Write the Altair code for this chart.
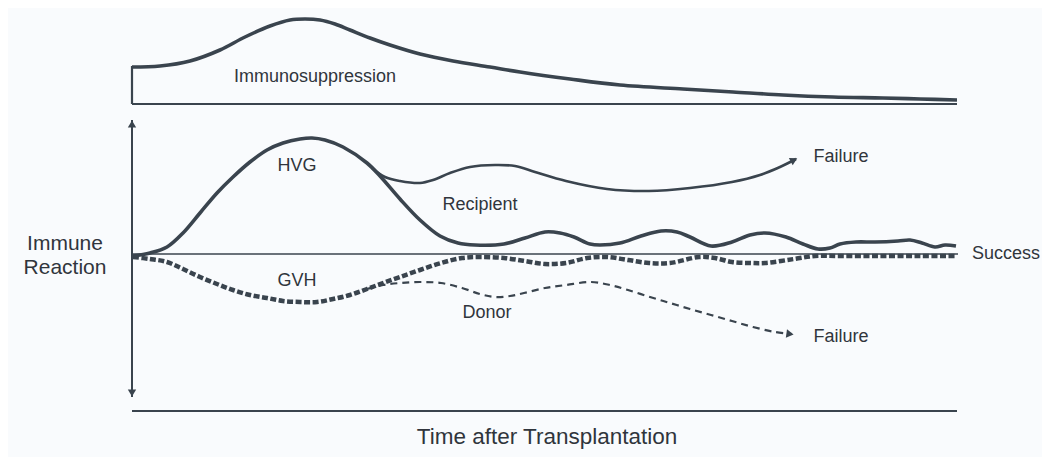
import altair as alt
import pandas as pd

# Schematic units: time t (0 = transplantation), level v (0 = immune baseline)
LINE = "#3a444e"
TEXT = "#30353c"
BG = "#f9fbfd"

# Immunosuppression curve (top panel)
immuno_t = [0, 28, 58, 88, 113, 138, 158, 173, 188, 203, 218, 238, 258, 288, 321, 358, 388, 438, 488, 551, 601, 651, 701, 751, 788, 825]
immuno_v = [187, 188, 193, 204, 217, 228, 234, 235, 234, 230, 224, 216, 209, 200, 193, 187, 182, 175, 169, 165, 162, 159, 157, 156, 155, 154]
immuno_base = 150

# HVG reaction that settles to success
hvg_t = [1, 18, 35, 51, 68, 85, 101, 118, 135, 151, 168, 180, 193, 211, 235, 248, 268, 288, 308, 326, 343, 372, 393, 413, 428, 442, 458, 468, 488, 509, 529, 545, 558, 579, 600, 618, 633, 654, 671, 686, 698, 708, 724, 743, 766, 778, 790, 803, 813, 824]
hvg_v = [-2, 1, 7, 21, 41, 61, 77, 92, 104, 111, 115, 116, 114, 107, 91, 78, 55, 34, 18, 11, 9, 10, 16, 22, 21, 17, 10, 9, 11, 18, 23, 22, 17, 8, 12, 19, 21, 17, 10, 5, 6, 10, 12, 12, 13, 14, 11, 7, 9, 8]

# Recipient branch toward failure
rec_t = [240, 253, 268, 288, 301, 318, 338, 363, 383, 403, 434, 475, 517, 558, 600, 628, 648, 664]
rec_v = [86, 77, 73, 71, 74, 81, 87, 89, 88, 82, 73, 65, 63, 66, 72, 79, 87, 95]

# GVH reaction (thick dashed) that settles to success
gvh_t = [1, 18, 35, 51, 68, 85, 101, 118, 135, 151, 168, 185, 201, 218, 235, 251, 268, 288, 309, 330, 348, 372, 393, 413, 434, 455, 475, 496, 517, 538, 567, 583, 600, 618, 633, 662, 683, 708, 748, 788, 824]
gvh_v = [-3, -5, -8, -15, -23, -30, -36, -41, -44, -47, -48, -48, -45, -41, -35, -29, -23, -16, -9, -4, -3, -4, -7, -10, -9, -4, -3, -6, -9, -9, -3, -4, -8, -9, -9, -5, -2, -2, -2, -2, -2]

# Donor branch (thin dashed) toward failure
don_t = [235, 251, 268, 288, 309, 330, 348, 363, 378, 392, 413, 434, 459, 478, 496, 518, 538, 558, 579, 600, 621, 643, 660]
don_v = [-35, -31, -29, -28, -29, -34, -40, -43, -42, -39, -34, -31, -28, -31, -36, -43, -49, -55, -61, -67, -73, -78, -80]

# Arrowheads: t, v, shape, angle
arrow_t = [0, 0, 662, 658]
arrow_v = [130, -139, 94, -80]
arrow_shape = ["triangle-up", "triangle-down", "triangle-right", "triangle-right"]
arrow_angle = [0, 0, 333, 8]

# Labels
label_text = ["Immunosuppression", "HVG", "GVH", "Recipient", "Donor", "Failure", "Failure", "Success",
              "Immune", "Reaction", "Time after Transplantation"]
label_t = [183, 165, 165, 348, 355, 709, 709, 874, -67, -67, 415]
label_v = [177, 88, -27, 49, -59, 97, -83, 0, 10, -14, -183]
label_size = [18, 18, 18, 18, 18, 18, 18, 18, 21, 21, 22.5]

X = alt.Scale(domain=[-124, 910])
Y = alt.Scale(domain=[-203, 246])


def curve(ts, vs, width, dash=None):
    df = pd.DataFrame({"t": ts, "v": vs, "i": range(len(ts))})
    kw = dict(color=LINE, strokeWidth=width, interpolate="catmull-rom", strokeCap="butt")
    if dash:
        kw["strokeDash"] = dash
    return alt.Chart(df).mark_line(**kw).encode(
        x=alt.X("t:Q", scale=X, axis=None),
        y=alt.Y("v:Q", scale=Y, axis=None),
        order="i:Q",
    )


def hrule(t0, t1, v, width):
    df = pd.DataFrame({"t": [t0], "t2": [t1], "v": [v]})
    return alt.Chart(df).mark_rule(color=LINE, strokeWidth=width).encode(
        x=alt.X("t:Q", scale=X, axis=None), x2="t2:Q",
        y=alt.Y("v:Q", scale=Y, axis=None),
    )


def vrule(t, v0, v1, width):
    df = pd.DataFrame({"t": [t], "v": [v0], "v2": [v1]})
    return alt.Chart(df).mark_rule(color=LINE, strokeWidth=width).encode(
        x=alt.X("t:Q", scale=X, axis=None),
        y=alt.Y("v:Q", scale=Y, axis=None), y2="v2:Q",
    )


immuno = curve(immuno_t, immuno_v, 3.6)
# the box of the immunosuppression panel
immuno_box_left = vrule(0, immuno_base, immuno_v[0] + 1, 2.2)
immuno_box_bottom = hrule(0, immuno_t[-1], immuno_base, 2.2)

axis_v = vrule(0, 134, -143, 2)
baseline = hrule(0, 826, 0, 1.6)
bottom = hrule(0, 825, -157, 2.2)

hvg = curve(hvg_t, hvg_v, 3.6)
rec = curve(rec_t, rec_v, 2.6)
gvh = curve(gvh_t, gvh_v, 4.5, [6, 2.5])
don = curve(don_t, don_v, 2.2, [7, 5])

arrows_df = pd.DataFrame({"t": arrow_t, "v": arrow_v, "shape": arrow_shape, "angle": arrow_angle})
arrows = alt.Chart(arrows_df).mark_point(filled=True, size=70, color=LINE, opacity=1).encode(
    x=alt.X("t:Q", scale=X, axis=None),
    y=alt.Y("v:Q", scale=Y, axis=None),
    shape=alt.Shape("shape:N", scale=None),
    angle=alt.Angle("angle:Q", scale=None),
)

labels_df = pd.DataFrame({"text": label_text, "t": label_t, "v": label_v, "fs": label_size})
labels = alt.Chart(labels_df).mark_text(
    font="Liberation Sans", color=TEXT, align="center", baseline="middle",
).encode(
    x=alt.X("t:Q", scale=X, axis=None),
    y=alt.Y("v:Q", scale=Y, axis=None),
    text="text:N",
    size=alt.Size("fs:Q", scale=None),
)

chart = alt.layer(
    immuno_box_left, immuno_box_bottom, immuno,
    axis_v, baseline, bottom,
    rec, don, gvh, hvg, arrows, labels,
).properties(
    width=1034, height=449, padding=0, autosize="none", background=BG,
).configure_view(stroke=None)

chart.save("out.html", embed_options={"renderer": "svg", "actions": False})
